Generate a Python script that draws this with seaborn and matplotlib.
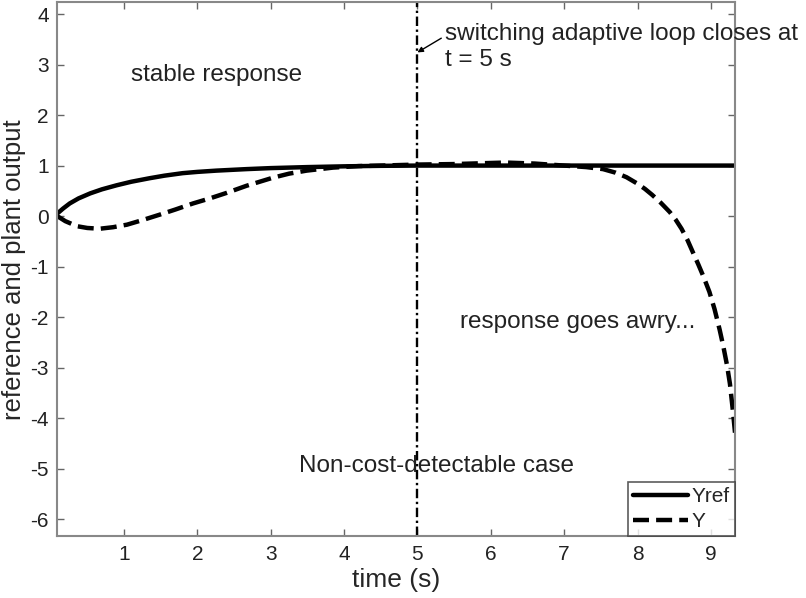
import matplotlib
matplotlib.use("Agg")
import matplotlib.pyplot as plt
import seaborn as sns
import pandas as pd

# ---- data ----
t_ref = [0.09, 0.17, 0.26, 0.38, 0.54, 0.7, 0.9, 1.1, 1.35, 1.55, 1.8, 2.0, 2.26, 2.67, 3.0, 3.5, 4.0, 4.5,
         5.0, 6.0, 7.0, 8.0, 9.0, 9.33]
y_ref = [0.05, 0.15, 0.25, 0.35, 0.45, 0.53, 0.61, 0.68, 0.75, 0.80, 0.85, 0.875, 0.90, 0.93, 0.95, 0.97,
         0.985, 0.995, 1.0, 1.0, 1.0, 1.0, 1.0, 1.0]

t_y = [0.09, 0.2, 0.36, 0.5, 0.67, 0.85, 1.04, 1.25, 1.49, 1.7, 1.94, 2.17, 2.4, 2.67, 2.85, 3.03, 3.25,
       3.49, 3.85, 4.2, 4.5, 5.0, 5.5, 6.2, 6.6, 7.0, 7.3, 7.53, 7.7, 7.85, 7.99, 8.1, 8.2, 8.32, 8.44,
       8.52, 8.6, 8.68, 8.75, 8.83, 8.9, 8.98, 9.05, 9.12, 9.17, 9.22, 9.26, 9.3, 9.33]
y_y = [0.0, -0.1, -0.2, -0.235, -0.25, -0.22, -0.17, -0.08, 0.03, 0.13, 0.25, 0.35, 0.46, 0.60, 0.68,
       0.76, 0.84, 0.90, 0.96, 0.99, 1.0, 1.02, 1.03, 1.06, 1.04, 1.0, 0.97, 0.93, 0.86, 0.77, 0.65, 0.54,
       0.42, 0.26, 0.08, -0.07, -0.25, -0.47, -0.70, -0.96, -1.20, -1.50, -1.84, -2.25, -2.58, -2.95, -3.32,
       -3.85, -4.3]

x_ticks = [1, 2, 3, 4, 5, 6, 7, 8, 9]
y_ticks = [4, 3, 2, 1, 0, -1, -2, -3, -4, -5, -6]
t_switch = 5

sns.set_style("white")
plt.rcParams["font.family"] = ["Liberation Sans", "DejaVu Sans"]
plt.rcParams["axes.unicode_minus"] = False

fig = plt.figure(figsize=(8.06, 5.98), dpi=100)
ax = fig.add_axes([0.071, 0.103, 0.841, 0.893])

df_ref = pd.DataFrame({"t": t_ref, "v": y_ref})
df_y = pd.DataFrame({"t": t_y, "v": y_y})

sns.lineplot(data=df_ref, x="t", y="v", ax=ax, color="black", lw=3.2, label="Yref", sort=False)
sns.lineplot(data=df_y, x="t", y="v", ax=ax, color="black", lw=3.2, label="Y", sort=False)
ax.lines[1].set_dashes([3.6, 1.6])
for ln in ax.lines:
    ln.set_solid_joinstyle("round")
    ln.set_dash_joinstyle("round")

ax.axvline(t_switch, color="black", lw=1.7, dashes=[4, 1.5, 1, 1.5])

ax.set_xlim(0.09, 9.33)
ax.set_ylim(-6.34, 4.23)
ax.set_xticks(x_ticks)
ax.set_yticks(y_ticks)
ax.tick_params(direction="in", length=5, width=1, color="#666666", labelsize=15,
               top=True, right=True, bottom=True, left=True, pad=6)
for lab in ax.get_xticklabels() + ax.get_yticklabels():
    lab.set_color("#222222")
for s in ax.spines.values():
    s.set_color("#888888")
    s.set_linewidth(1.5)

ax.set_xlabel("time (s)", fontsize=19, labelpad=3)
ax.set_ylabel("reference and plant output", fontsize=18.5, labelpad=3)

fs = 17.5
ax.text(1.1, 2.8, "stable response", fontsize=fs, va="center", ha="left", color="#222222")
ax.text(5.58, -2.1, "response goes awry...", fontsize=fs, va="center", ha="left", color="#222222")
ax.text(3.39, -4.95, "Non-cost-detectable case", fontsize=fs, va="center", ha="left", color="#222222")
ax.annotate("switching adaptive loop closes at\nt = 5 s", xy=(5.0, 3.24), xytext=(5.37, 3.35),
            fontsize=fs, va="center", ha="left", color="#222222", linespacing=1.25,
            arrowprops=dict(arrowstyle="-|>", color="black", lw=1, shrinkA=0, shrinkB=0,
                            mutation_scale=8, relpos=(0, 0.72)))

leg = ax.legend(loc="lower right", fontsize=15, frameon=True, fancybox=False,
                borderaxespad=0, handlelength=2.6, handletextpad=0.2, borderpad=0.25,
                labelspacing=0.3)
leg.get_frame().set_edgecolor("#333333")
leg.get_frame().set_linewidth(1.2)

fig.savefig("out.png", dpi=100)
